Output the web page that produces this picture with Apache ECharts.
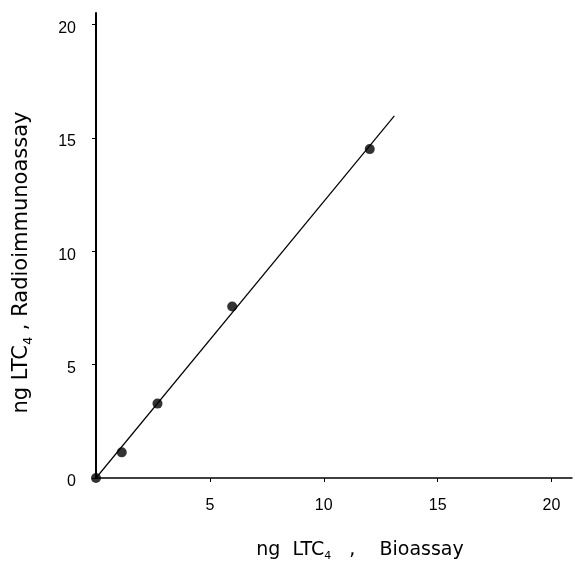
<!DOCTYPE html>
<html>
<head>
<meta charset="utf-8">
<script src="https://cdn.jsdelivr.net/npm/echarts@6/dist/echarts.min.js"></script>
<style>html,body{margin:0;padding:0;background:#fff;}#chart{width:575px;height:567px;}</style>
</head>
<body>
<div id="chart"></div>
<script>
// Data
var bioassay = [0, 1.13, 2.7, 5.98, 12.02];   // ng LTC4, Bioassay (x)
var ria = [0, 1.13, 3.28, 7.56, 14.5];         // ng LTC4, Radioimmunoassay (y)
var fitX = [0, 13.1];                          // regression line x ends
var fitY = [0, 15.96];                         // regression line y ends
var xTickLabels = [5, 10, 15, 20];
var yTickLabels = [0, 5, 10, 15, 20];

var pts = bioassay.map(function (x, i) { return [x, ria[i]]; });
var fit = fitX.map(function (x, i) { return [x, fitY[i]]; });

var chart = echarts.init(document.getElementById('chart'), null, {renderer: 'canvas'});
var font = 'Liberation Sans, Arial, sans-serif';
var nameFont = 'DejaVu Sans, sans-serif';
chart.setOption({
  animation: false,
  backgroundColor: '#fff',
  grid: {left: 96, right: 3, top: 13, bottom: 84, containLabel: false},
  xAxis: {
    type: 'value', min: 0, max: 20.9, interval: 5,
    name: 'ng  LTC{sub|4}   ,    Bioassay',
    nameLocation: 'middle', nameGap: 61,
    nameTextStyle: {color: '#000', fontSize: 19, fontFamily: nameFont, padding: [0, 0, 0, 52],
      rich: {sub: {fontSize: 11, color: '#000', fontFamily: nameFont, padding: [12, 0, 0, 0]}}},
    axisLine: {show: true, lineStyle: {color: '#000', width: 1.5}},
    axisTick: {show: true, length: 4, inside: false, customValues: xTickLabels, lineStyle: {color: '#000', width: 1}},
    axisLabel: {show: true, customValues: xTickLabels, margin: 20, color: '#000', fontSize: 16, fontFamily: font},
    splitLine: {show: false}
  },
  yAxis: {
    type: 'value', min: 0, max: 20.5, interval: 5,
    name: 'ng LTC{sub|4} , Radioimmunoassay',
    nameLocation: 'middle', nameGap: 61,
    nameTextStyle: {color: '#000', fontSize: 21, fontFamily: nameFont, padding: [0, 34, 0, 0],
      rich: {sub: {fontSize: 13, color: '#000', fontFamily: nameFont, padding: [13, 0, 0, 0]}}},
    axisLine: {show: true, lineStyle: {color: '#000', width: 2}},
    axisTick: {show: true, length: 4, inside: false, customValues: yTickLabels, lineStyle: {color: '#000', width: 1}},
    axisLabel: {show: true, customValues: yTickLabels, margin: 20, color: '#000', fontSize: 16, fontFamily: font, verticalAlign: 'top', lineHeight: 8, align: 'right'},
    splitLine: {show: false}
  },
  series: [
    {
      type: 'line', data: fit, showSymbol: false, symbol: 'none',
      lineStyle: {color: '#000', width: 1.2}, silent: true, z: 2
    },
    {
      type: 'scatter', data: pts, symbol: 'circle', symbolSize: 10,
      itemStyle: {color: '#000'}, z: 3
    }
  ]
});
</script>
</body>
</html>
